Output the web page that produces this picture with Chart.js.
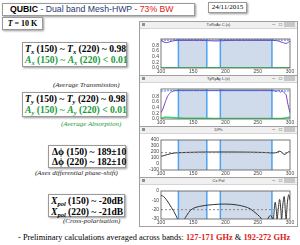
<!DOCTYPE html>
<html>
<head>
<meta charset="utf-8">
<script src="https://cdn.jsdelivr.net/npm/chart.js@4.4.1/dist/chart.umd.min.js"></script>
<style>
  body { margin: 0; width: 300px; height: 245px; background: #fff; position: relative; overflow: hidden; font-family: "Liberation Serif", serif; }
  .box { position: absolute; border: 1px solid #9a9a9a; box-shadow: 1px 1px 2px #999; background: #fff; box-sizing: border-box; }
  .abs { position: absolute; white-space: nowrap; }
  .big { font-weight: bold; font-size: 9.6px; line-height: 11px; }
  .big i { font-style: italic; }
  .sub { font-size: 6.5px; vertical-align: -2px; font-style: italic; }
  .cap { font-style: italic; font-size: 7px; color: #222; }
  .grn { color: #1a9a3a; }
  .win { position: absolute; left: 139px; width: 159px; border: 1px solid #a0a0a0; box-sizing: border-box; background: #fff; }
  .bar { height: 6px; background: #f0f0f0; border-bottom: 1px solid #d4d4d4; font-family: "Liberation Sans", sans-serif; font-size: 4px; line-height: 6px; text-align: center; color: #333; position: relative; }
  .bar .ic { position: absolute; left: 2px; top: 1px; width: 3px; height: 3px; background: #7a9a8a; }
  .bar .btn { position: absolute; top: 0; font-size: 5px; line-height: 5px; color: #444; }
  .bar .cls { position: absolute; right: 2px; top: 0; width: 11px; height: 5px; background: #c8c8c8; }
  canvas { position: absolute; }
</style>
</head>
<body>

<div class="box" style="left:2px;top:3px;width:193px;height:13px;"></div>
<div class="abs" style="left:10px;top:3px;font-family:'Liberation Sans',sans-serif;font-size:8.7px;line-height:13px;color:#1f3a6e;"><b style="color:#000">QUBIC</b> - Dual band Mesh-HWP <span style="color:#e02020">- 73% BW</span></div>

<div class="box" style="left:208px;top:2px;width:39px;height:11px;"></div>
<div class="abs" style="left:208px;top:2px;width:39px;text-align:center;font-size:7px;line-height:11px;">24/11/2015</div>

<div class="box" style="left:2px;top:17px;width:41px;height:13px;"></div>
<div class="abs" style="left:2px;top:17px;width:41px;text-align:center;font-size:8px;line-height:13px;font-weight:bold;"><i>T</i> = 10 K</div>

<div class="box" style="left:22px;top:42px;width:105px;height:25px;"></div>
<div class="abs big" style="left:25px;top:43px;"><i>T</i><span class="sub">x</span> (150) ~ <i>T</i><span class="sub">x</span> (220) ~ 0.98</div>
<div class="abs big grn" style="left:25px;top:54px;"><i>A</i><span class="sub">x</span> (150) ~ <i>A</i><span class="sub">x</span> (220) &lt; 0.01</div>
<div class="abs cap" style="left:53px;top:81px;">(Average Transmission)</div>

<div class="box" style="left:22px;top:92px;width:105px;height:25px;"></div>
<div class="abs big" style="left:25px;top:93px;"><i>T</i><span class="sub">y</span> (150) ~ <i>T</i><span class="sub">y</span> (220) ~ 0.98</div>
<div class="abs big grn" style="left:25px;top:104px;"><i>A</i><span class="sub">y</span> (150) ~ <i>A</i><span class="sub">y</span> (220) &lt; 0.01</div>
<div class="abs cap grn" style="left:61px;top:120px;">(Average Absorption)</div>

<div class="box" style="left:48px;top:145px;width:78px;height:23px;"></div>
<div class="abs big" style="left:52px;top:146px;">Δϕ (150) ~ 189±10</div>
<div class="abs big" style="left:52px;top:156px;">Δϕ (220) ~ 182±10</div>
<div class="abs cap" style="left:35px;top:169px;">(Axes differential phase-shift)</div>

<div class="box" style="left:48px;top:194px;width:77px;height:23px;"></div>
<div class="abs big" style="left:51px;top:195px;"><i>X</i><span class="sub">pol</span> (150) ~ -20dB</div>
<div class="abs big" style="left:51px;top:206px;"><i>X</i><span class="sub">pol</span> (220) ~ -21dB</div>
<div class="abs cap" style="left:63px;top:217px;">(Cross-polarisation)</div>

<div class="abs" style="left:18px;top:233px;font-size:8.4px;line-height:10px;">- Preliminary calculations averaged across bands: <b style="color:#e01818">127-171 GHz</b> &amp; <b style="color:#e01818">192-272 GHz</b></div>

<div class="win" style="top:21px;height:55px;"><div class="bar"><span class="ic"></span>TxRxAx C.(s)<span class="btn" style="right:22px">–</span><span class="btn" style="right:15px">□</span><span class="cls"></span></div></div>
<div class="win" style="top:75px;height:52px;"><div class="bar"><span class="ic"></span>TyRyAy L.(s)<span class="btn" style="right:22px">–</span><span class="btn" style="right:15px">□</span><span class="cls"></span></div></div>
<div class="win" style="top:126px;height:52px;"><div class="bar"><span class="ic"></span>DPh<span class="btn" style="right:22px">–</span><span class="btn" style="right:15px">□</span><span class="cls"></span></div></div>
<div class="win" style="top:177px;height:50px;"><div class="bar"><span class="ic"></span>Cx Pol<span class="btn" style="right:22px">–</span><span class="btn" style="right:15px">□</span><span class="cls"></span></div></div>

<canvas id="c1" style="left:141px;top:28px;width:156px;height:47px;"></canvas>
<canvas id="c2" style="left:141px;top:82px;width:156px;height:44px;"></canvas>
<canvas id="c3" style="left:141px;top:133px;width:156px;height:44px;"></canvas>
<canvas id="c4" style="left:141px;top:184px;width:156px;height:42px;"></canvas>

<script>
// frequency bands (GHz)
const bandStart = [127, 192];
const bandEnd = [171, 272];
const freqTicks = [100, 150, 200, 250, 300];

// Tx / Rx / Ax
const freq1 = [100, 103, 106, 109, 112, 116, 120, 125, 140, 160, 175, 185, 195, 210, 240, 270, 280, 284, 288, 292, 295, 298, 300];
const tx1 = [0.97, 0.94, 0.91, 0.90, 0.92, 0.95, 0.97, 0.98, 0.98, 0.98, 0.97, 0.96, 0.97, 0.98, 0.98, 0.98, 0.97, 0.94, 0.91, 0.88, 0.88, 0.92, 0.96];
const tx1b = [0.99, 0.99, 0.99, 0.99, 0.99, 0.99, 1.0, 1.0, 1.0, 1.0, 0.99, 0.99, 1.0, 1.0, 1.0, 1.0, 0.99, 0.99, 0.99, 0.99, 0.99, 0.99, 0.99];
const ax1 = [0.01, 0.01, 0.01, 0.01, 0.01, 0.01, 0.01, 0.01, 0.01, 0.01, 0.01, 0.01, 0.01, 0.01, 0.01, 0.01, 0.01, 0.01, 0.01, 0.01, 0.01, 0.01, 0.01];

// Ty / Ry / Ay
const freq2 = [100, 102, 104, 106, 108, 110, 112, 115, 118, 121, 125, 140, 160, 180, 200, 230, 260, 275, 279, 282, 285, 288, 291, 294, 296, 298, 300];
const ty2 = [0.22, 0.30, 0.42, 0.55, 0.68, 0.78, 0.86, 0.93, 0.97, 0.99, 1.0, 1.0, 1.0, 1.0, 1.0, 1.0, 1.0, 0.99, 0.96, 1.0, 0.94, 0.98, 0.92, 0.85, 0.60, 0.40, 0.22];
const ty2b = [0.98, 0.98, 0.98, 0.98, 0.98, 0.99, 0.99, 0.99, 0.99, 0.99, 0.99, 0.99, 0.99, 0.99, 0.99, 0.99, 0.99, 0.99, 0.99, 0.99, 0.99, 0.99, 0.98, 0.98, 0.98, 0.98, 0.98];
const ay2 = [0.02, 0.04, 0.05, 0.06, 0.06, 0.06, 0.06, 0.05, 0.05, 0.04, 0.04, 0.03, 0.03, 0.02, 0.02, 0.02, 0.02, 0.02, 0.02, 0.02, 0.02, 0.02, 0.03, 0.04, 0.05, 0.06, 0.05];

// differential phase
const freq3 = [100, 103, 106, 110, 115, 120, 125, 140, 160, 180, 200, 220, 240, 260, 270, 275, 280, 283, 286, 289, 292, 295, 298, 300];
const dph3 = [130, 135, 145, 158, 172, 182, 187, 193, 198, 200, 200, 199, 197, 192, 186, 184, 195, 215, 205, 175, 160, 180, 205, 200];
const dphRef = 189;

// cross-polarisation (dB)
const freq4 = [100, 104, 108, 112, 116, 120, 123, 126, 128, 132, 136, 140, 146, 152, 160, 170, 180, 190, 200, 210, 220, 230, 238, 244, 250, 255, 258, 262, 265, 268, 270, 272, 274, 275, 277, 279, 280, 282, 284, 286, 287, 289, 291, 293, 294, 296, 298, 300];
const xpol4 = [-4.5, -6, -9, -13, -17.5, -22, -26, -31, -40, -40, -31, -26, -20.5, -18, -16.5, -15.3, -14.6, -14.1, -14, -14.3, -15.2, -16.8, -19, -22, -25.5, -29, -33, -40, -31, -27, -26.5, -28, -32, -25, -12, -22, -31, -18, -9, -22, -31, -14, -6, -24, -31, -12, -4, -10];
const xpolRef = -20;

const pts = (xs, ys) => xs.map((x, i) => ({ x: x, y: ys[i] }));
const flat = (xs, v) => [{ x: xs[0], y: v }, { x: xs[xs.length - 1], y: v }];

const bandPlugin = {
    id: 'bands',
    beforeDatasetsDraw(chart) {
        const ctx = chart.ctx, a = chart.chartArea, x = chart.scales.x;
        ctx.save();
        bandStart.forEach((s, i) => {
            const x0 = x.getPixelForValue(s), x1 = x.getPixelForValue(bandEnd[i]);
            ctx.fillStyle = '#cfdbea';
            ctx.fillRect(x0, a.top, x1 - x0, a.bottom - a.top);
            ctx.strokeStyle = '#4ea4f2';
            ctx.lineWidth = 1.5;
            ctx.beginPath();
            ctx.moveTo(x0, a.top); ctx.lineTo(x0, a.bottom);
            ctx.moveTo(x1, a.top); ctx.lineTo(x1, a.bottom);
            ctx.stroke();
        });
        ctx.restore();
    },
    afterDatasetsDraw(chart) {
        const ctx = chart.ctx, a = chart.chartArea;
        ctx.save();
        ctx.strokeStyle = '#555';
        ctx.lineWidth = 0.8;
        ctx.strokeRect(a.left, a.top, a.right - a.left, a.bottom - a.top);
        ctx.restore();
    }
};

function makeChart(id, datasets, ymin, ymax, ystep, decimals, padTop, xh) {
    return new Chart(document.getElementById(id), {
        type: 'line',
        data: { datasets: datasets },
        options: {
            responsive: false,
            animation: false,
            events: [],
            layout: { padding: { top: padTop, right: 7, left: 0, bottom: 0 } },
            plugins: { legend: { display: false }, tooltip: { enabled: false } },
            elements: { point: { radius: 0 }, line: { borderWidth: 1, tension: 0.3 } },
            scales: {
                x: {
                    type: 'linear', min: 100, max: 300,
                    afterBuildTicks: s => { s.ticks = freqTicks.map(v => ({ value: v })); },
                    afterFit: s => { s.height = xh; },
                    grid: { display: false, drawTicks: false },
                    border: { display: false },
                    ticks: { font: { size: 5, family: 'Liberation Sans' }, color: '#444', padding: 1, maxRotation: 0, autoSkip: false }
                },
                y: {
                    min: ymin, max: ymax,
                    afterBuildTicks: s => { s.ticks = s.ticks.filter(t => Math.abs(t.value / ystep - Math.round(t.value / ystep)) < 1e-6); },
                    afterFit: s => { s.width = 20; },
                    grid: { display: false, drawTicks: false },
                    border: { display: false },
                    ticks: { stepSize: ystep, font: { size: 5, family: 'Liberation Sans' }, color: '#444', padding: 2, autoSkip: false,
                             callback: v => v.toFixed(decimals) }
                }
            }
        },
        plugins: [bandPlugin]
    });
}

function sizeCanvas(id) {
    const c = document.getElementById(id);
    c.width = parseInt(c.style.width);
    c.height = parseInt(c.style.height);
}
['c1', 'c2', 'c3', 'c4'].forEach(sizeCanvas);

makeChart('c1', [
    { data: pts(freq1, tx1b), borderColor: '#3a7de0', borderDash: [2, 1] },
    { data: pts(freq1, tx1), borderColor: '#7a3cc0' },
    { data: pts(freq1, ax1), borderColor: '#3cd46a', borderWidth: 1.5 }
], 0, 1.03, 0.2, 1, 11, 7);

makeChart('c2', [
    { data: pts(freq2, ty2b), borderColor: '#3a7de0', borderDash: [2, 1] },
    { data: pts(freq2, ty2), borderColor: '#7a3cc0' },
    { data: pts(freq2, ay2), borderColor: '#3cd46a', borderWidth: 1.5 }
], 0, 1.05, 0.2, 1, 7, 7);

makeChart('c3', [
    { data: flat(freq3, dphRef), borderColor: '#888', borderDash: [2, 2], tension: 0 },
    { data: pts(freq3, dph3), borderColor: '#333' }
], -100, 400, 100, 0, 7, 7);

makeChart('c4', [
    { data: flat(freq4, xpolRef), borderColor: '#888', borderDash: [2, 2], tension: 0 },
    { data: pts(freq4, xpol4), borderColor: '#333', tension: 0.35 }
], -30, 0, 10, 0, 7, 7);
</script>
</body>
</html>
